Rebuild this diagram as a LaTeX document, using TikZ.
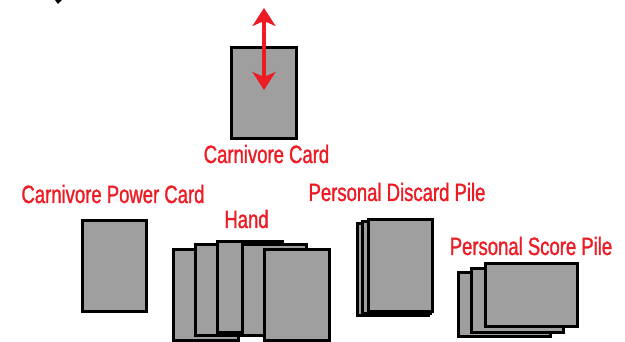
\documentclass[tikz,border=0pt]{standalone}
\usepackage{fontspec}
\usetikzlibrary{arrows.meta}
\newfontfamily\labfont[FakeStretch=0.74,FakeBold=1.2]{Liberation Sans}
\definecolor{cardgray}{HTML}{A09FA0}
\definecolor{labred}{HTML}{ED1C24}
\tikzset{
  card/.style={draw=black, line width=2.8pt, fill=cardgray, rectangle, inner sep=0pt},
  lbl/.style={text=labred, font=\labfont\fontsize{25}{27}\selectfont, anchor=base, inner sep=0pt},
  redarrow/.style={draw=labred, line width=4pt, {Stealth[length=18pt,width=23pt,inset=5pt]}-{Stealth[length=18pt,width=23pt,inset=5pt]}}
}
\newcommand{\cardat}[5]{% name, x1, y1, x2, y2
  \node[card, minimum width={#4-#2-2.8pt}, minimum height={#5-#3-2.8pt}] (#1) at ({(#2+#4)/2},{(#3+#5)/2}) {};}
\begin{document}
\begin{tikzpicture}[x=1pt,y=-1pt]
\useasboundingbox (0,0) rectangle (625,342);
% small mark at top left
\fill[black] (55,0) -- (62,0) -- (58,4) -- cycle;
% carnivore card
\cardat{carn}{230}{46}{298}{140}
\coordinate (atop) at (264,8);
\coordinate (abot) at (264,90);
\draw[redarrow] (atop) -- (abot);
\node[lbl] (carnlbl) at (266.5,163) {Carnivore Card};
% power card
\cardat{power}{81}{219}{148}{313}
\node[lbl] (powerlbl) at (113,203) {Carnivore Power Card};
% hand
\cardat{hand1}{172}{248}{240}{342}
\cardat{hand2}{194}{243}{262}{337}
\cardat{hand3}{216}{240}{284}{334}
\cardat{hand4}{241}{243}{308}{337}
\cardat{hand5}{263}{248}{331}{342}
\node[lbl] (handlbl) at (246.5,228) {Hand};
% discard pile
\cardat{disc3}{356}{222}{430}{317}
\cardat{disc2}{361}{220}{432}{315}
\cardat{disc1}{367}{218}{434}{313}
\node[lbl] (disclbl) at (397,201) {Personal Discard Pile};
% score pile
\cardat{score3}{457}{271}{552}{338}
\cardat{score2}{470}{267}{565}{334}
\cardat{score1}{484}{262}{579}{328}
\node[lbl] (scorelbl) at (531,255) {Personal Score Pile};
\end{tikzpicture}
\end{document}
